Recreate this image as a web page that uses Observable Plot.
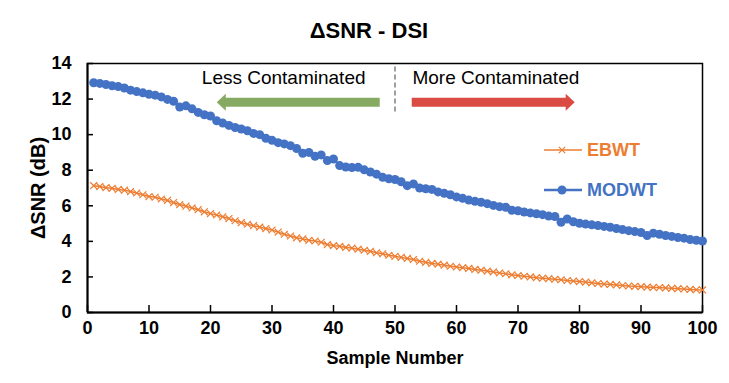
<!DOCTYPE html>
<html><head><meta charset="utf-8">
<script src="https://cdn.jsdelivr.net/npm/d3@7"></script>
<script src="https://cdn.jsdelivr.net/npm/@observablehq/plot@0.6"></script>
<style>
body{margin:0;background:#fff}
#chart{width:729px;height:383px}
</style>
</head><body><div id="chart"></div>
<script>
const sampleNumbers = d3.range(1, 101);
const ebwt = [7.13,7.08,7.02,6.98,6.92,6.88,6.80,6.72,6.62,6.52,
6.48,6.38,6.30,6.18,6.07,5.98,5.88,5.78,5.66,5.56,
5.48,5.38,5.28,5.16,5.05,4.96,4.88,4.80,4.72,4.64,
4.52,4.40,4.30,4.20,4.14,4.06,4.02,3.95,3.82,3.76,
3.72,3.66,3.62,3.56,3.50,3.44,3.36,3.30,3.22,3.16,
3.10,3.04,2.98,2.88,2.82,2.76,2.72,2.66,2.60,2.56,
2.52,2.48,2.42,2.38,2.33,2.28,2.22,2.18,2.12,2.08,
2.04,2.00,1.96,1.93,1.90,1.87,1.84,1.80,1.77,1.74,
1.71,1.67,1.63,1.60,1.58,1.55,1.52,1.49,1.47,1.45,
1.43,1.41,1.40,1.38,1.36,1.34,1.32,1.30,1.28,1.27];
const modwt = [12.92,12.88,12.82,12.75,12.70,12.62,12.50,12.42,12.35,12.27,
12.22,12.12,11.98,11.88,11.55,11.62,11.45,11.25,11.12,11.05,
10.78,10.65,10.52,10.40,10.32,10.22,10.07,10.00,9.80,9.68,
9.55,9.48,9.38,9.22,8.95,9.00,8.78,8.86,8.54,8.63,
8.26,8.18,8.15,8.16,8.02,7.90,7.78,7.60,7.52,7.48,
7.35,7.13,7.23,7.00,6.96,6.92,6.78,6.70,6.62,6.50,
6.42,6.32,6.25,6.20,6.12,6.02,5.95,5.92,5.75,5.72,
5.65,5.60,5.55,5.50,5.42,5.40,5.07,5.26,5.10,5.02,
4.97,4.93,4.89,4.84,4.79,4.72,4.66,4.60,4.55,4.50,
4.33,4.46,4.40,4.33,4.28,4.22,4.18,4.10,4.06,4.02];
const seriesNames = ["EBWT", "MODWT"];
const seriesColors = ["#ED7D31", "#4472C4"];
const xTicks = [0,10,20,30,40,50,60,70,80,90,100];
const yTicks = [0,2,4,6,8,10,12,14];
const titleText = "\u0394SNR - DSI";
const xLabel = "Sample Number";
const yLabel = "\u0394SNR (dB)";
const regionLabels = ["Less Contaminated", "More Contaminated"];

const ebwtData = sampleNumbers.map((n, i) => ({n, v: ebwt[i]}));
const modwtData = sampleNumbers.map((n, i) => ({n, v: modwt[i]}));

const FONT = "'Liberation Sans', Arial, sans-serif";

const plot = Plot.plot({
  width: 729, height: 383,
  marginTop: 63, marginBottom: 71, marginLeft: 87, marginRight: 27,
  style: {fontFamily: FONT, background: "#fff", color: "#000"},
  x: {domain: [0, 100]},
  y: {domain: [0, 14]},
  marks: [
    Plot.frame({stroke: "#000", strokeWidth: 1.5}),
    Plot.ruleX([0], {stroke: "#000", strokeWidth: 2}),
    Plot.ruleY([0], {stroke: "#000", strokeWidth: 2}),
    Plot.axisX(xTicks, {tickSize: 7, dy: -7, tickFormat: () => "", strokeWidth: 1.5, label: null}),
    Plot.axisY(yTicks, {tickSize: 6, dx: 6, tickFormat: () => "", strokeWidth: 1.5, label: null}),
    Plot.axisX(xTicks, {tickSize: 0, tickPadding: 9, fontSize: 18, fontWeight: "bold", label: null}),
    Plot.axisY(yTicks, {tickSize: 0, tickPadding: 16, fontSize: 18, fontWeight: "bold", label: null}),
    Plot.text([xLabel], {frameAnchor: "bottom", lineAnchor: "middle", dy: 46, fontSize: 18, fontWeight: "bold"}),
    Plot.text([yLabel], {frameAnchor: "left", textAnchor: "middle", lineAnchor: "middle", dx: -49, rotate: -90, fontSize: 20, fontWeight: "bold"}),
    Plot.text([titleText], {frameAnchor: "top", lineAnchor: "middle", dy: -33, dx: -26, fontSize: 22, fontWeight: "bold"}),
    Plot.ruleX([50], {y1: 13.8, y2: 11.2, stroke: "#808080", strokeWidth: 1.5, strokeDasharray: "5,3"}),
    Plot.text([regionLabels[0]], {x: 31.9, y: 13.2, fontSize: 19}),
    Plot.text([regionLabels[1]], {x: 66.4, y: 13.2, fontSize: 19}),
    Plot.line(ebwtData, {x: "n", y: "v", stroke: seriesColors[0], strokeWidth: 1.5}),
    Plot.dot(ebwtData, {x: "n", y: "v", symbol: "times", r: 3.2, stroke: seriesColors[0], strokeWidth: 1.2}),
    Plot.line(modwtData, {x: "n", y: "v", stroke: seriesColors[1], strokeWidth: 2.5}),
    Plot.dot(modwtData, {x: "n", y: "v", r: 4.5, fill: seriesColors[1], stroke: "none"})
  ]
});
document.getElementById("chart").appendChild(plot);

// arrows (annotation) via plot scales
const sx = plot.scale("x"), sy = plot.scale("y");
const svg = d3.select(plot);
function arrow(xFrom, xTo, yv, color) {
  const x0 = sx.apply(xFrom), x1 = sx.apply(xTo), y = sy.apply(yv);
  const dir = Math.sign(x1 - x0), head = 9, sh = 4.5, hh = 8.5;
  const xb = x1 - dir * head;
  const pts = [[x0, y - sh], [xb, y - sh], [xb, y - hh], [x1, y], [xb, y + hh], [xb, y + sh], [x0, y + sh]];
  svg.append("polygon").attr("points", pts.map(p => p.join(",")).join(" ")).attr("fill", color);
}
arrow(47.6, 21.1, 11.8, "#86AA62");
arrow(52.8, 79.3, 11.8, "#D94B43");

// legend
const lg = svg.append("g").attr("font-family", FONT).attr("font-size", 18).attr("font-weight", "bold").attr("text-anchor", "start");
[150, 190].forEach((y, i) => {
  lg.append("line").attr("x1", 544).attr("x2", 582).attr("y1", y).attr("y2", y)
    .attr("stroke", seriesColors[i]).attr("stroke-width", i ? 2.5 : 1.5);
  if (i) lg.append("circle").attr("cx", 562).attr("cy", y).attr("r", 4.5).attr("fill", seriesColors[i]);
  else lg.append("path").attr("d", `M558.8,${y-3.2}L565.2,${y+3.2}M558.8,${y+3.2}L565.2,${y-3.2}`)
    .attr("stroke", seriesColors[i]).attr("stroke-width", 1.2);
  lg.append("text").attr("x", 587).attr("y", y).attr("dy", "0.35em").attr("text-anchor", "start").attr("fill", seriesColors[i]).text(seriesNames[i]);
});
</script>
</body></html>
